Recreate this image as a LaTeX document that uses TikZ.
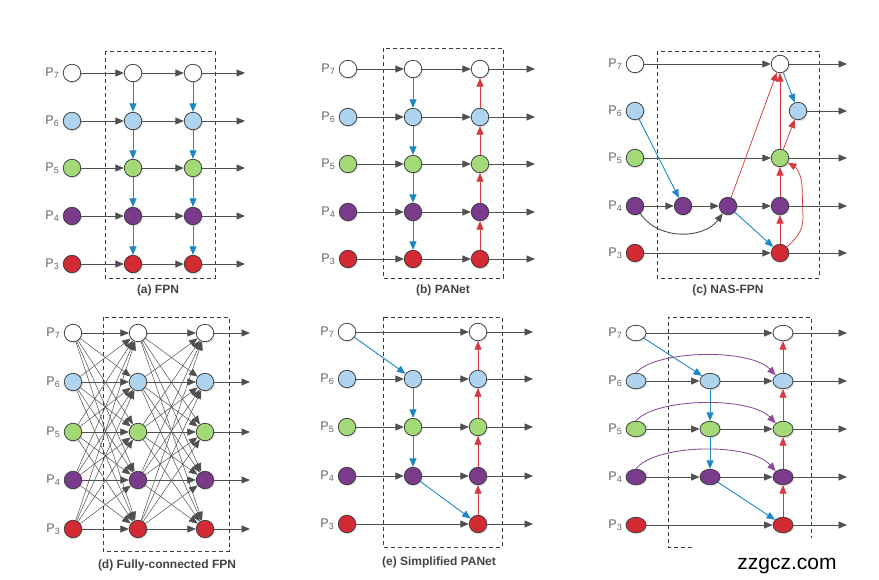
\documentclass[tikz,border=0pt]{standalone}
\usepackage{fontspec}
\setmainfont{Liberation Sans}
\usetikzlibrary{arrows.meta,shapes.geometric,shadows,calc}
\definecolor{lblue}{HTML}{AED4EF}
\definecolor{lgreen}{HTML}{A3D977}
\definecolor{lpurple}{HTML}{7B3B8C}
\definecolor{lred}{HTML}{D42A34}
\definecolor{ndline}{HTML}{3A3A3A}
\definecolor{garr}{HTML}{505050}
\definecolor{barr}{HTML}{1E88C4}
\definecolor{rarr}{HTML}{D43A3F}
\definecolor{parr}{HTML}{8D4A98}
\definecolor{labc}{HTML}{666666}
\definecolor{capc}{HTML}{444444}
\newcommand{\plab}[1]{P\raisebox{-2.5pt}{\fontsize{9}{9}\selectfont #1}}
\tikzset{
  nd/.style={circle, draw=ndline, line width=0.75pt, minimum size=17.5pt, inner sep=0pt,
    drop shadow={opacity=0.18, shadow xshift=1.2pt, shadow yshift=-1.6pt}},
  l7/.style={nd, fill=white},
  l6/.style={nd, fill=lblue},
  l5/.style={nd, fill=lgreen},
  l4/.style={nd, fill=lpurple},
  l3/.style={nd, fill=lred},
  ell/.style={ellipse, minimum width=20pt, minimum height=15.5pt},
  tip/.style={-{Triangle[length=8.5pt,width=7pt]}},
  ge/.style={draw=garr, line width=0.9pt, tip},
  gthin/.style={draw=garr, line width=0.5pt, tip},
  be/.style={draw=barr, line width=0.9pt, tip},
  re/.style={draw=rarr, line width=0.75pt, tip},
  pe/.style={draw=parr, line width=0.85pt, tip},
  dbox/.style={draw=ndline, line width=0.8pt, dash pattern=on 4pt off 3pt},
  lab/.style={anchor=east, text=labc, font=\fontsize{12.5}{12.5}\selectfont, inner sep=0pt},
  captext/.style={text=capc, font=\bfseries\fontsize{12}{12}\selectfont, inner sep=0pt}
}
\begin{document}
\begin{tikzpicture}[x=1pt,y=-1pt]
\useasboundingbox[fill=white] (0,0) rectangle (879,579);

% ---------------- (a) FPN ----------------
\draw[dbox] (105,51) rectangle (215,278);
\node[captext] (acap) at (158,290) {(a) FPN};
\foreach \k/\y in {7/73,6/121,5/168,4/216,3/264}{
  \node[l\k] (a\k i) at (72,\y) {};
  \node[lab] (a\k L) at (59,\y) {\plab{\k}};
  \node[l\k] (a\k m) at (133,\y) {};
  \node[l\k] (a\k r) at (193,\y) {};
  \coordinate (a\k e) at (245,\y);
  \draw[ge] (a\k i) -- (a\k m);
  \draw[ge] (a\k m) -- (a\k r);
  \draw[ge] (a\k r) -- (a\k e);
}
\foreach \u/\d in {7/6,6/5,5/4,4/3}{
  \draw[be] (a\u m) -- (a\d m);
  \draw[be] (a\u r) -- (a\d r);
}

% ---------------- (b) PANet ----------------
\draw[dbox] (383,48) rectangle (503,278);
\node[captext] (bcap) at (443,290) {(b) PANet};
\foreach \k/\y in {7/69,6/117,5/164,4/212,3/259}{
  \node[l\k] (b\k i) at (348,\y) {};
  \node[lab] (b\k L) at (335,\y) {\plab{\k}};
  \node[l\k] (b\k m) at (413,\y) {};
  \node[l\k] (b\k r) at (480,\y) {};
  \coordinate (b\k e) at (535,\y);
  \draw[ge] (b\k i) -- (b\k m);
  \draw[ge] (b\k m) -- (b\k r);
  \draw[ge] (b\k r) -- (b\k e);
}
\foreach \u/\d in {7/6,6/5,5/4,4/3}{
  \draw[be] (b\u m) -- (b\d m);
  \draw[re] (b\d r) -- (b\u r);
}

% ---------------- (c) NAS-FPN ----------------
\draw[dbox] (657,51) rectangle (819,278);
\node[captext] (ccap) at (728,290) {(c) NAS-FPN};
\foreach \k/\y in {7/64,6/111,5/158,4/206,3/253}{
  \node[l\k] (c\k i) at (635,\y) {};
  \node[lab] (c\k L) at (622,\y) {\plab{\k}};
  \coordinate (c\k e) at (847,\y);
}
\node[l4] (c4a) at (683,206) {};
\node[l4] (c4b) at (728,206) {};
\node[l7] (c7o) at (780,64) {};
\node[l6] (c6o) at (798,111) {};
\node[l5] (c5o) at (780,158) {};
\node[l4] (c4o) at (780,206) {};
\node[l3] (c3o) at (780,253) {};
\draw[ge] (c7i) -- (c7o);
\draw[ge] (c5i) -- (c5o);
\draw[ge] (c3i) -- (c3o);
\draw[ge] (c4i) -- (c4a);
\draw[ge] (c4a) -- (c4b);
\draw[ge] (c4b) -- (c4o);
\draw[ge] (c4i) .. controls (660,242) and (705,238) .. (c4b);
\draw[be] (c6i) -- (c4a);
\draw[re] (c4b) -- (c7o);
\draw[be] (c4b) -- (c3o);
\draw[re] (c3o) -- (c4o);
\draw[re] (c4o) -- (c5o);
\draw[re] (c5o) -- (c7o);
\draw[re] (c5o) -- (c6o);
\draw[be] (c7o) -- (c6o);
\draw[re] (c3o) .. controls (797,238) and (803,230) .. (803,218) -- (802,185) .. controls (801,175) and (797,168) .. (c5o);
\foreach \k in {7,6,5,4,3}{ \draw[ge] (c\k o) -- (c\k e); }

% ---------------- (d) Fully-connected FPN ----------------
\draw[dbox] (103,317) rectangle (229,551);
\node[captext] (dcap) at (167,565) {(d) Fully-connected FPN};
\foreach \k/\y in {7/333,6/382,5/432,4/480,3/529}{
  \node[l\k] (d\k i) at (73,\y) {};
  \node[lab] (d\k L) at (60,\y) {\plab{\k}};
  \node[l\k] (d\k m) at (138,\y) {};
  \node[l\k] (d\k r) at (205,\y) {};
  \coordinate (d\k e) at (250,\y);
}
\foreach \k in {7,6,5,4,3}{
  \foreach \j in {7,6,5,4,3}{
    \draw[gthin] (d\k i) -- (d\j m);
    \draw[gthin] (d\k m) -- (d\j r);
  }
  \draw[ge] (d\k r) -- (d\k e);
}

% ---------------- (e) Simplified PANet ----------------
\draw[dbox] (383,317) rectangle (502,547);
\node[captext] (ecap) at (439,562) {(e) Simplified PANet};
\foreach \k/\y in {7/332,6/379,5/427,4/476,3/524}{
  \node[l\k] (e\k i) at (347,\y) {};
  \node[lab] (e\k L) at (334,\y) {\plab{\k}};
  \node[l\k] (e\k r) at (478,\y) {};
  \coordinate (e\k e) at (533,\y);
  \draw[ge] (e\k r) -- (e\k e);
}
\foreach \k/\y in {6/379,5/427,4/476}{
  \node[l\k] (e\k m) at (413,\y) {};
  \draw[ge] (e\k i) -- (e\k m);
  \draw[ge] (e\k m) -- (e\k r);
}
\draw[ge] (e7i) -- (e7r);
\draw[ge] (e3i) -- (e3r);
\draw[be] (e7i) -- (e6m);
\draw[be] (e6m) -- (e5m);
\draw[be] (e5m) -- (e4m);
\draw[be] (e4m) -- (e3r);
\foreach \u/\d in {7/6,6/5,5/4,4/3}{ \draw[re] (e\d r) -- (e\u r); }

% ---------------- (f) BiFPN ----------------
\draw[dbox] (692,547) -- (668,547) -- (668,317) -- (811,317) -- (811,538);
\foreach \k/\y in {7/333,6/381,5/429,4/477,3/525}{
  \node[l\k,ell] (f\k i) at (636,\y) {};
  \node[lab] (f\k L) at (622,\y) {\plab{\k}};
  \node[l\k,ell] (f\k r) at (783,\y) {};
  \coordinate (f\k e) at (847,\y);
  \draw[ge] (f\k r) -- (f\k e);
}
\foreach \k/\y in {6/381,5/429,4/477}{
  \node[l\k,ell] (f\k m) at (710,\y) {};
  \draw[ge] (f\k i) -- (f\k m);
  \draw[ge] (f\k m) -- (f\k r);
}
\draw[ge] (f7i) -- (f7r);
\draw[ge] (f3i) -- (f3r);
\draw[be] (f7i) -- (f6m);
\draw[be] (f6m) -- (f5m);
\draw[be] (f5m) -- (f4m);
\draw[be] (f4m) -- (f3r);
\foreach \u/\d in {7/6,6/5,5/4,4/3}{ \draw[re] (f\d r) -- (f\u r); }
\draw[pe] (f6i.north) .. controls (655,350) and (750,348) .. (f6r.north west);
\draw[pe] (f5i.north) .. controls (655,398) and (750,396) .. (f5r.north west);
\draw[pe] (f4i.north) .. controls (655,444) and (750,442) .. (f4r.north west);

\node[font=\fontsize{21}{21}\selectfont, text=black, inner sep=0pt] (wm) at (787,566) {zzgcz.com};
\end{tikzpicture}
\end{document}
